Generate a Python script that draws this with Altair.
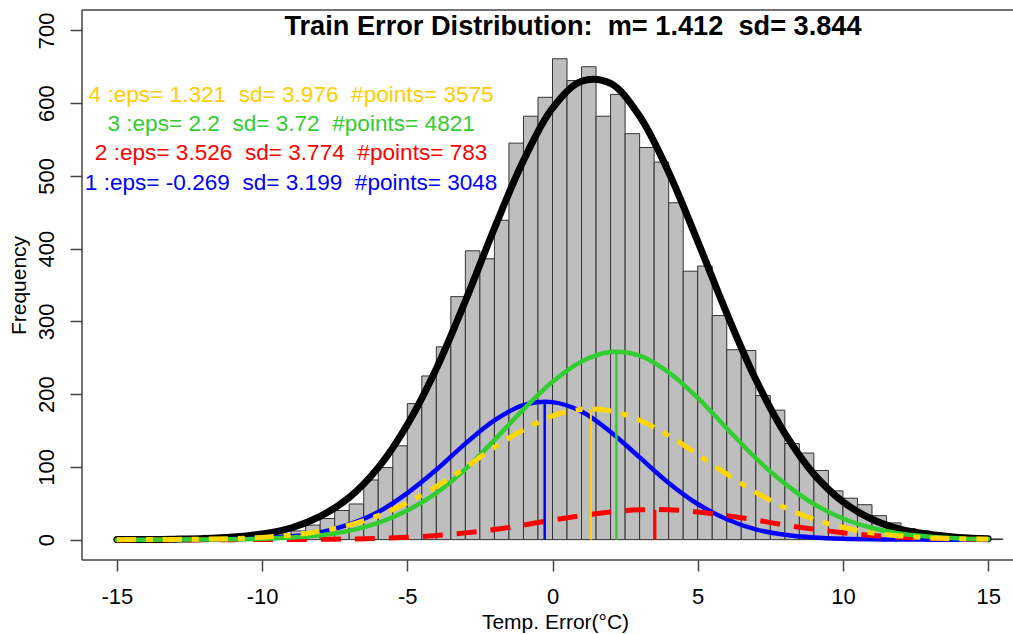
import altair as alt
import pandas as pd

# ---------------- data ----------------
bin_width = 0.5
bin_left = [-15 + bin_width * i for i in range(61)]
counts = [0, 0, 0, 0, 0, 1, 1, 1, 2, 3,
          5, 8, 12, 20, 29, 40, 49, 82, 99, 129,
          187, 225, 265, 334, 397, 386, 439, 545, 582, 608,
          661, 631, 650, 582, 612, 558, 539, 519, 463, 369,
          376, 308, 261, 260, 198, 178, 132, 119, 95, 67,
          57, 48, 33, 23, 15, 12, 8, 6, 4, 3,
          1]

curve_x = list(range(-15, 16))
total_curve = [0.1, 0.2, 0.6, 1.4, 3.5, 7.7, 16, 32, 58, 99, 158, 235, 328, 428, 521, 593,
               630, 627, 582, 505, 410, 311, 220, 146, 90, 52, 28, 14, 7, 3, 1.2]
c1_blue = [0, 0, 0.1, 0.2, 0.7, 1.9, 4.6, 10, 21, 38, 64, 96, 132, 164, 185, 189,
           176, 148, 113, 78, 49, 28, 14, 6.7, 2.9, 1.1, 0.4, 0.1, 0, 0, 0]
c2_red = [0, 0, 0, 0, 0, 0.1, 0.2, 0.4, 0.9, 1.7, 3.2, 5.7, 9.3, 14, 20, 27,
          33, 38, 41, 41, 38, 33, 27, 20, 14.5, 9.5, 5.8, 3.3, 1.8, 0.9, 0.4]
c3_green = [0, 0, 0.1, 0.2, 0.5, 1.2, 2.8, 6, 12, 23, 40, 64, 97, 137, 179, 217,
            245, 258, 253, 230, 195, 153, 112, 77, 49, 29, 16, 8, 4, 1.7, 0.7]
c4_yellow = [0, 0.1, 0.3, 0.7, 1.5, 3.1, 6.2, 11.5, 20, 33, 51, 73, 99, 127, 151, 170,
             179, 177, 164, 143, 117, 90, 65, 44, 28, 17, 9, 5, 2.4, 1.1, 0.5]

cluster_means = [-0.269, 3.526, 2.2, 1.321]
cluster_peaks = [190, 41, 258, 179]
cluster_colors = ["#0000FF", "#FF0000", "#32CD32", "#FFD700"]
cluster_widths = [2.5, 3, 2.5, 2]

S = "\u00a0"
legend_lines = [
    f"4 :eps= 1.321{S}{S}sd= 3.976{S}{S}#points= 3575",
    f"3 :eps= 2.2{S}{S}sd= 3.72{S}{S}#points= 4821",
    f"2 :eps= 3.526{S}{S}sd= 3.774{S}{S}#points= 783",
    f"1 :eps= -0.269{S}{S}sd= 3.199{S}{S}#points= 3048",
]
legend_colors = ["#FFCC00", "#33CC33", "#FF0000", "#0000FF"]
legend_x = [-9.0, -9.0, -9.0, -9.0]
legend_y = [602, 562, 522, 481]

title_text = f"Train Error Distribution:{S}{S}m= 1.412{S}{S}sd= 3.844"

FONT = "Liberation Sans"
# full plot box is 941 px wide; its right side falls outside the 1013 px picture
W, H = 941, 550
BORDER = "#444444"

# ---------------- scales / axes ----------------
xscale = alt.Scale(domain=[-16.2, 16.2], nice=False, zero=False)
yscale = alt.Scale(domain=[-28, 728], nice=False, zero=False)

xaxis = alt.Axis(orient="bottom", values=[-15, -10, -5, 0, 5, 10, 15],
                 labelExpr="'' + datum.value", domain=False,
                 tickSize=11, tickWidth=1.5, tickColor=BORDER,
                 grid=False, labelFontSize=22, labelFont=FONT,
                 labelColor="black", labelPadding=15, labelFlush=False, labelOverlap=False,
                 title="Temp. Error(°C)", titleFont=FONT, titleFontSize=21,
                 titleFontWeight="normal", titleColor="black", titleX=473, titleY=68,
                 titleBaseline="alphabetic", titleAnchor="start", titleAlign="center")
yaxis = alt.Axis(orient="left", values=[0, 100, 200, 300, 400, 500, 600, 700],
                 labelAngle=270, labelAlign="center", labelBaseline="bottom", domain=False,
                 tickSize=12, tickWidth=1.5, tickColor=BORDER,
                 grid=False, labelFontSize=22, labelFont=FONT,
                 labelColor="black", labelPadding=12, labelFlush=False, labelOverlap=False,
                 title="Frequency", titleFont=FONT, titleFontSize=21,
                 titleFontWeight="normal", titleColor="black", titleAngle=270,
                 titleX=-57, titleY=275, titleBaseline="alphabetic", titleAlign="center",
                 titleAnchor="start")


def X(field, with_axis=False):
    if with_axis:
        return alt.X(f"{field}:Q", scale=xscale, axis=xaxis)
    return alt.X(f"{field}:Q", scale=xscale)


def Y(field, with_axis=False):
    if with_axis:
        return alt.Y(f"{field}:Q", scale=yscale, axis=yaxis)
    return alt.Y(f"{field}:Q", scale=yscale)


# ---------------- layers ----------------
bars_df = pd.DataFrame({"x": bin_left,
                        "x1": [b + bin_width for b in bin_left],
                        "base": [0] * len(bin_left),
                        "y": counts})
bars = alt.Chart(bars_df).mark_rect(fill="#BEBEBE", stroke="#333333", strokeWidth=1,
                                    clip=True).encode(
    x=X("x", True), x2="x1", y=Y("base", True), y2="y")


def curve(values, color, width, dash=None):
    df = pd.DataFrame({"x": curve_x, "y": values})
    kw = dict(color=color, strokeWidth=width, interpolate="catmull-rom", clip=True,
              strokeCap="butt" if dash else "round", strokeJoin="round")
    if dash:
        kw["strokeDash"] = dash
    return alt.Chart(df).mark_line(**kw).encode(x=X("x"), y=Y("y"))


black_line = curve(total_curve, "#000000", 7)
blue_line = curve(c1_blue, "#0000FF", 4.5)
red_line = curve(c2_red, "#FF0000", 5, [20, 14])
green_line = curve(c3_green, "#32CD32", 4.5)
yellow_line = curve(c4_yellow, "#FFD700", 5, [19, 10, 7, 10])

vlines = []
for m, pk, col, w in zip(cluster_means, cluster_peaks, cluster_colors, cluster_widths):
    df = pd.DataFrame({"x": [m], "base": [0], "y": [pk]})
    vlines.append(alt.Chart(df).mark_rule(color=col, strokeWidth=w).encode(
        x=X("x"), y=Y("base"), y2="y"))

leg_df = pd.DataFrame({"x": legend_x, "y": legend_y, "t": legend_lines, "c": legend_colors})
legend = alt.Chart(leg_df).mark_text(font=FONT, fontSize=22.6, align="center",
                                     baseline="alphabetic").encode(
    x=X("x"), y=Y("y"), text="t:N", color=alt.Color("c:N", scale=None))

one = pd.DataFrame({"a": [0]})
title = alt.Chart(one).mark_text(font=FONT, fontSize=27.2, fontWeight="bold",
                                 align="center", baseline="alphabetic",
                                 color="black").encode(
    x=alt.value(491), y=alt.value(25), text=alt.value(title_text))

# plot frame
top_border = alt.Chart(one).mark_rule(color=BORDER, strokeWidth=1.5).encode(
    x=alt.value(0), x2=alt.value(W), y=alt.value(0))
left_border = alt.Chart(one).mark_rule(color=BORDER, strokeWidth=1.5).encode(
    x=alt.value(0), y=alt.value(0), y2=alt.value(H))
bottom_border = alt.Chart(one).mark_rule(color=BORDER, strokeWidth=1.5).encode(
    x=alt.value(0), x2=alt.value(W), y=alt.value(H))

chart = alt.layer(bars, black_line, blue_line, red_line, green_line, yellow_line,
                  *vlines, legend, title, top_border, left_border, bottom_border).properties(
    width=W, height=H,
    autosize=alt.AutoSizeParams(type="none"),
    padding={"left": 82, "top": 10, "right": -10, "bottom": 74},
    background="white",
).configure(font=FONT, view=alt.ViewConfig(stroke="transparent", strokeWidth=0),
            axis=alt.AxisConfig(domain=False),
            axisRight=alt.AxisConfig(domain=False, ticks=False, labels=False),
            axisTop=alt.AxisConfig(domain=False, ticks=False, labels=False))

chart.save("out.html", embed_options={"renderer": "svg", "actions": False})
